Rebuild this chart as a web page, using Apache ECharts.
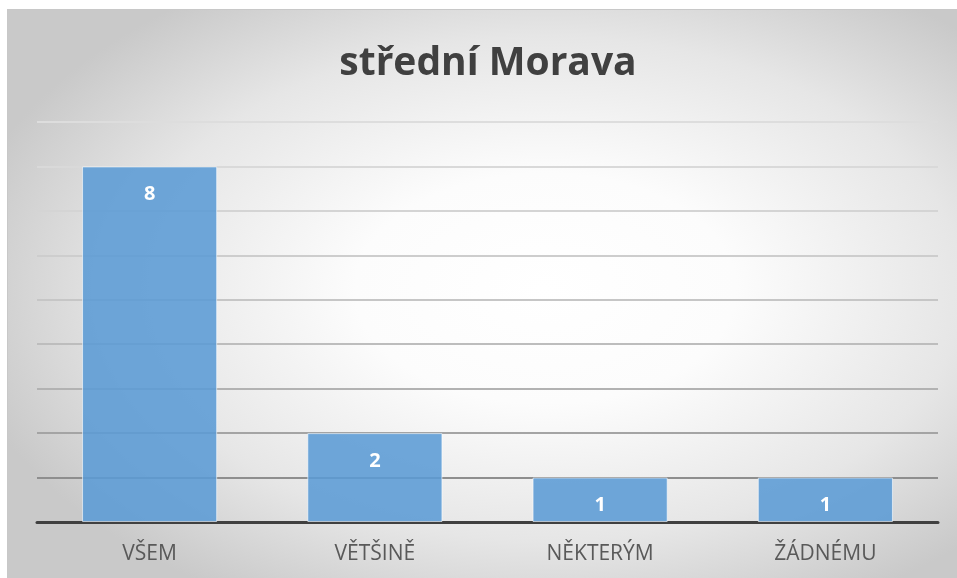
<!DOCTYPE html>
<html>
<head>
<meta charset="utf-8">
<script src="https://cdn.jsdelivr.net/npm/echarts@6/dist/echarts.min.js"></script>
<style>
  html, body { margin: 0; padding: 0; background: #ffffff; overflow: hidden; }
  #chart {
    position: absolute; left: 7px; top: 9px;
    width: 960px; height: 580px;
    border: 1px solid #c8c8c8;
    background: radial-gradient(ellipse 62% 62% at 56% 48%, #ffffff 0%, #fcfcfc 32%, #e6e6e6 70%, #c9c9c9 100%);
  }
</style>
</head>
<body>
<div id="chart"></div>
<script>
const titleText = 'střední Morava'
const categories = ['VŠEM', 'VĚTŠINĚ', 'NĚKTERÝM', 'ŽÁDNÉMU']
const values = [8, 2, 1, 1]
const yMin = 0
const yMax = 9

const chart = echarts.init(document.getElementById('chart'))
chart.setOption({
  backgroundColor: 'transparent',
  animation: false,
  title: {
    text: titleText,
    left: 'center',
    top: 29,
    textStyle: {
      fontFamily: 'Open Sans',
      fontWeight: 'bold',
      fontSize: 39,
      color: '#404040'
    }
  },
  grid: {
    left: 29,
    right: 30,
    top: 112,
    bottom: 68
  },
  xAxis: {
    type: 'category',
    data: categories,
    axisLine: { show: true, lineStyle: { color: '#404040', width: 3 } },
    axisTick: { show: false },
    axisLabel: {
      margin: 22,
      fontFamily: 'Open Sans',
      fontSize: 21,
      color: '#595959'
    }
  },
  yAxis: {
    type: 'value',
    min: yMin,
    max: yMax,
    interval: 1,
    axisLine: { show: false },
    axisTick: { show: false },
    axisLabel: { show: false },
    splitLine: {
      show: true,
      lineStyle: {
        width: 2,
        // darker near the bottom, fading toward the top
        color: ['#404040', '#8e8e8e', '#a4a4a4', '#b2b2b2', '#bdbdbd', '#c6c6c6', '#cdcdcd', '#d4d4d4', '#d9d9d9', '#dddddd']
      }
    }
  },
  series: [
    {
      type: 'bar',
      data: values,
      barWidth: '60%',
      itemStyle: {
        color: 'rgba(91,155,213,0.88)',
        borderColor: 'rgba(255,255,255,0.6)',
        borderWidth: 1
      },
      label: {
        show: true,
        position: 'insideTop',
        distance: 18,
        fontFamily: 'Open Sans',
        fontWeight: 'bold',
        fontSize: 20,
        color: '#ffffff'
      }
    }
  ]
})
</script>
</body>
</html>
